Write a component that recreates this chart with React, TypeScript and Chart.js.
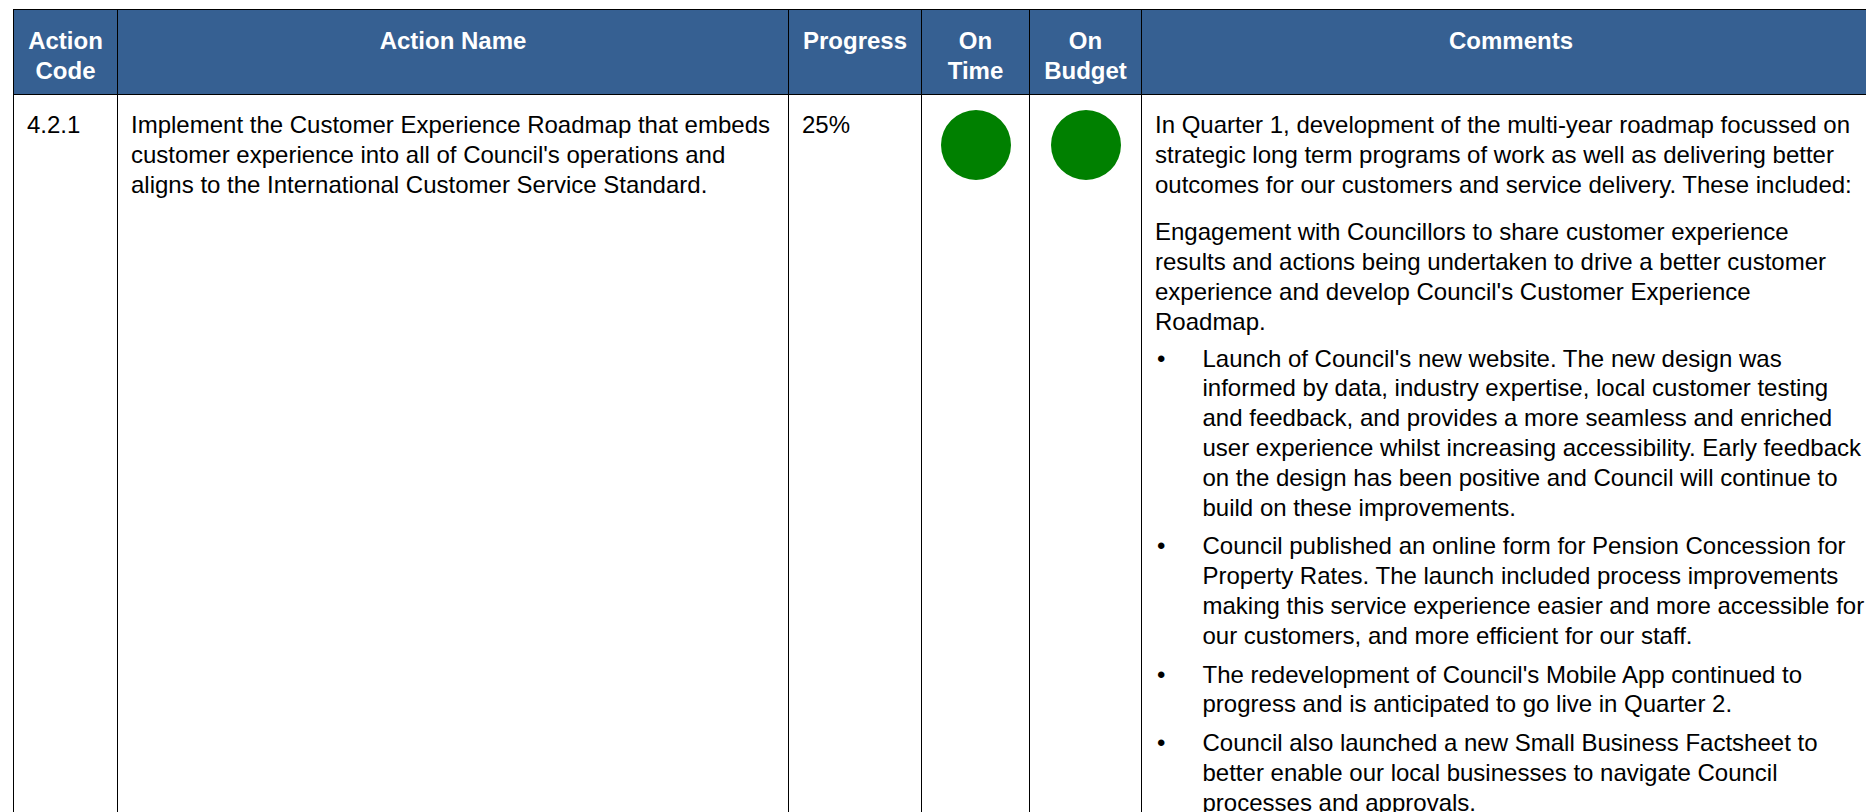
import React, { useEffect, useRef } from "react";
import { Chart, registerables } from "chart.js";

Chart.register(...registerables);

// ---- data ----
const headerLabels: string[][] = [
  ["Action", "Code"],
  ["Action Name"],
  ["Progress"],
  ["On", "Time"],
  ["On", "Budget"],
  ["Comments"],
];
const actionCodes: string[] = ["4.2.1"];
const actionNameLines: string[] = [
  "Implement the Customer Experience Roadmap that embeds",
  "customer experience into all of Council's operations and",
  "aligns to the International Customer Service Standard.",
];
const progressValues: number[] = [25];
const onTimeStatus: string[] = ["On track"];
const onBudgetStatus: string[] = ["On track"];
const statusColours: Record<string, string> = { "On track": "#008000" };

const introParagraph: string[] = [
  "In Quarter 1, development of the multi-year roadmap focussed on",
  "strategic long term programs of work as well as delivering better",
  "outcomes for our customers and service delivery. These included:",
];
const engagementParagraph: string[] = [
  "Engagement with Councillors to share customer experience",
  "results and actions being undertaken to drive a better customer",
  "experience and develop Council's Customer Experience",
  "Roadmap.",
];
const bulletWebsite: string[] = [
  "Launch of Council's new website. The new design was",
  "informed by data, industry expertise, local customer testing",
  "and feedback, and provides a more seamless and enriched",
  "user experience whilst increasing accessibility. Early feedback",
  "on the design has been positive and Council will continue to",
  "build on these improvements.",
];
const bulletPension: string[] = [
  "Council published an online form for Pension Concession for",
  "Property Rates. The launch included process improvements",
  "making this service experience easier and more accessible for",
  "our customers, and more efficient for our staff.",
];
const bulletMobile: string[] = [
  "The redevelopment of Council's Mobile App continued to",
  "progress and is anticipated to go live in Quarter 2.",
];
const bulletFactsheet: string[] = [
  "Council also launched a new Small Business Factsheet to",
  "better enable our local businesses to navigate Council",
  "processes and approvals.",
];

// ---- layout ----
const edges = [13, 117, 788, 921, 1029, 1141, 1880];
const TOP = 9;
const HEAD_BOTTOM = 94;
const FONT = "'Liberation Sans', Arial, Helvetica, sans-serif";
const LH = 29.8;
const BLUE = "#366092";
const DOT = 70;
const BULLET_GAP = 9;

function Lines({ lines }: { lines: string[] }) {
  return (
    <>
      {lines.map((l, i) => (
        <div key={i} style={{ whiteSpace: "nowrap", height: LH, lineHeight: LH + "px" }}>
          {l}
        </div>
      ))}
    </>
  );
}

function Bullet({ lines, gapAfter }: { lines: string[]; gapAfter: number }) {
  return (
    <div style={{ position: "relative", paddingLeft: 47.5, marginBottom: gapAfter }}>
      <span style={{ position: "absolute", left: 2, top: 0, lineHeight: LH + "px" }}>•</span>
      <Lines lines={lines} />
    </div>
  );
}

function StatusDot({ status, left, top }: { status: string; left: number; top: number }) {
  const ref = useRef<HTMLCanvasElement | null>(null);
  useEffect(() => {
    if (!ref.current) return;
    const chart = new Chart(ref.current, {
      type: "pie",
      data: {
        labels: [status],
        datasets: [
          {
            data: [1],
            backgroundColor: [statusColours[status]],
            borderWidth: 0,
          },
        ],
      },
      options: {
        responsive: false,
        animation: false,
        devicePixelRatio: 1,
        layout: { padding: 0 },
        plugins: { legend: { display: false }, tooltip: { enabled: false } },
        events: [],
      },
    });
    return () => chart.destroy();
  }, [status]);
  return (
    <canvas
      ref={ref}
      width={DOT}
      height={DOT}
      style={{ position: "absolute", left, top, width: DOT, height: DOT }}
    />
  );
}

export default function App() {
  const cellBase: React.CSSProperties = {
    position: "absolute",
    boxSizing: "border-box",
    borderTop: "1px solid #000",
    borderLeft: "1px solid #000",
  };
  const bodyTop = HEAD_BOTTOM;
  const bodyHeight = 900;
  const dotCenter = (i: number) => (edges[i] + edges[i + 1]) / 2 + 0.5 - DOT / 2;

  return (
    <div
      style={{
        position: "fixed",
        left: 0,
        top: 0,
        width: 1866,
        height: 812,
        overflow: "hidden",
        background: "#fff",
        fontFamily: FONT,
        fontSize: 24,
        color: "#000",
      }}
    >
      {headerLabels.map((lines, i) => (
        <div
          key={"h" + i}
          style={{
            ...cellBase,
            left: edges[i],
            top: TOP,
            width: edges[i + 1] - edges[i],
            height: HEAD_BOTTOM - TOP,
            background: BLUE,
            color: "#fff",
            fontWeight: "bold",
            textAlign: "center",
            paddingTop: 16,
          }}
        >
          {lines.map((l, j) => (
            <div key={j} style={{ lineHeight: LH + "px", height: LH, whiteSpace: "nowrap" }}>
              {l}
            </div>
          ))}
        </div>
      ))}

      {edges.slice(0, -1).map((e, i) => (
        <div
          key={"b" + i}
          style={{
            ...cellBase,
            left: e,
            top: bodyTop,
            width: edges[i + 1] - e,
            height: bodyHeight,
            paddingTop: 15,
            paddingLeft: 13,
          }}
        >
          {i === 0 && <Lines lines={[actionCodes[0]]} />}
          {i === 1 && <Lines lines={actionNameLines} />}
          {i === 2 && <Lines lines={[progressValues[0] + "%"]} />}
          {i === 5 && (
            <div>
              <div style={{ marginBottom: 18 }}>
                <Lines lines={introParagraph} />
              </div>
              <div style={{ marginBottom: 7 }}>
                <Lines lines={engagementParagraph} />
              </div>
              <Bullet lines={bulletWebsite} gapAfter={BULLET_GAP} />
              <Bullet lines={bulletPension} gapAfter={BULLET_GAP} />
              <Bullet lines={bulletMobile} gapAfter={BULLET_GAP} />
              <Bullet lines={bulletFactsheet} gapAfter={0} />
            </div>
          )}
        </div>
      ))}

      <StatusDot status={onTimeStatus[0]} left={dotCenter(3)} top={110} />
      <StatusDot status={onBudgetStatus[0]} left={dotCenter(4)} top={110} />
    </div>
  );
}
